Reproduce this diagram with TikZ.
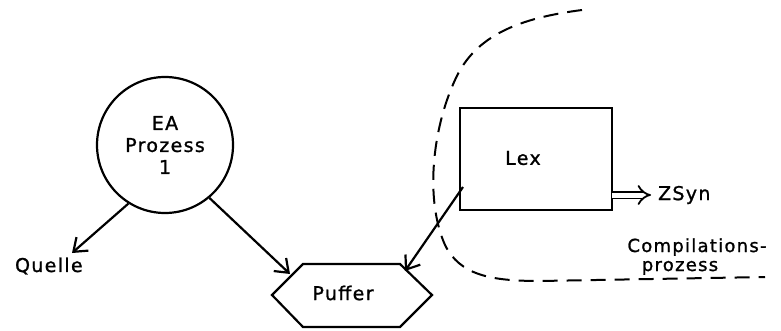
\documentclass[tikz,border=0pt]{standalone}
\usepackage{fontspec}
\setmainfont{DejaVu Sans}[LetterSpace=7, FakeBold=1.2]
\usetikzlibrary{arrows.meta}
\begin{document}
\begin{tikzpicture}[x=1pt,y=-1pt,
  line width=2.2pt,
  lbl/.style={font=\fontsize{19}{20}\selectfont, inner sep=0pt},
  arr/.style={-{Straight Barb[length=12pt,width=18pt,line width=2.2pt]}},
  bound/.style={dash pattern=on 15pt off 9pt, line width=2pt}]
\useasboundingbox (0,0) rectangle (781,331);
% EA Prozess
\node[draw, circle, minimum size=136pt, inner sep=0pt] (ea) at (165,145) {};
\node[lbl, align=center] (eatext) at (165,145) {EA\\[2pt]Prozess\\[2pt]1};
% Quelle
\node[lbl, anchor=west] (quelle) at (14,266) {Quelle};
\coordinate (qtip) at (72,253);
% Puffer hexagon
\coordinate (hl) at (272,295);
\coordinate (htl) at (303,264);
\coordinate (htr) at (400,264);
\coordinate (hr) at (432,295);
\coordinate (hbr) at (400,327);
\coordinate (hbl) at (303,327);
\draw (hl) -- (htl) -- (htr) -- (hr) -- (hbr) -- (hbl) -- cycle;
\node[lbl] (puffer) at (343,293) {Puffer};
\coordinate (p1) at (290,274);
\coordinate (p2) at (405,271);
% Lex
\node[draw, minimum width=152pt, minimum height=102pt, inner sep=0pt] (lex) at (536,159) {};
\node[lbl] (lextext) at (523,158) {Lex};
\node[lbl, anchor=west] (zsyn) at (657,195) {ZSyn};
\coordinate (lexout) at (612,195);
\coordinate (lexin) at (463,187);
% Compilations-prozess
\node[lbl, anchor=base, font=\fontsize{18}{19}\selectfont] (comp1) at (697,252) {Compilations-};
\node[lbl, anchor=base, font=\fontsize{18}{19}\selectfont] (comp2) at (680,271) {prozess};
% connectors
\draw[arr] (ea.-122) -- (qtip);
\draw[arr] (ea.-50) -- (p1);
\draw[arr] (lexin) -- (p2);
\draw[double, double distance=5pt, line width=1.8pt, -{Implies[length=10pt]}] (lexout) -- (651,195);
% dashed boundary
\draw[bound] (582,10) .. controls (520,18) and (475,35) .. (455,80)
  .. controls (432,130) and (425,200) .. (445,245)
  .. controls (460,275) and (490,281) .. (540,281)
  -- (765,277);
\end{tikzpicture}
\end{document}
